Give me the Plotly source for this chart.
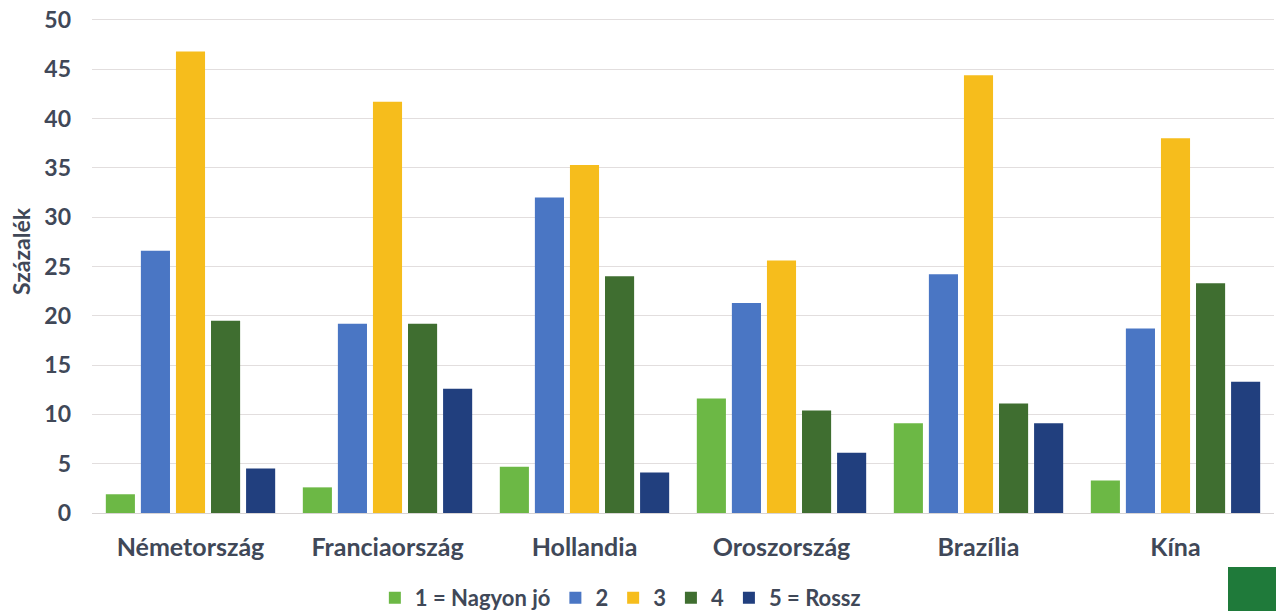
import plotly.graph_objects as go

categories = ["Németország", "Franciaország", "Hollandia", "Oroszország", "Brazília", "Kína"]
series_names = ["1 = Nagyon jó", "2", "3", "4", "5 = Rossz"]
v1 = [1.9, 2.6, 4.7, 11.6, 9.1, 3.3]
v2 = [26.6, 19.2, 32.0, 21.3, 24.2, 18.7]
v3 = [46.8, 41.7, 35.3, 25.6, 44.4, 38.0]
v4 = [19.5, 19.2, 24.0, 10.4, 11.1, 23.3]
v5 = [4.5, 12.6, 4.1, 6.1, 9.1, 13.3]
colors = ["#6cb845", "#4a76c4", "#f6bd1c", "#3f6e30", "#213f7e"]
y_title = "Százalék"

values = [v1, v2, v3, v4, v5]
fig = go.Figure()
for name, vals, col in zip(series_names, values, colors):
    fig.add_trace(go.Bar(x=categories, y=vals, name=name, marker=dict(color=col, line=dict(width=0))))

txt = "#404858"
F = "Lato"
fig.update_layout(
    width=1276, height=611,
    margin=dict(l=92, r=2, t=15, b=98),
    plot_bgcolor="white", paper_bgcolor="white",
    barmode="group", bargap=0.11, bargroupgap=0.17,
    font=dict(family=F, color=txt),
    showlegend=True,
    legend=dict(orientation="h", x=0.447, xanchor="center", yref="container", y=13/611, yanchor="middle",
                font=dict(size=22, family=F, weight="bold", color=txt),
                itemwidth=30, tracegroupgap=0),
    xaxis=dict(range=[-0.5, 5.5], showgrid=False, showline=False, zeroline=False, automargin=False,
               tickfont=dict(size=25, family=F, weight="bold", color=txt), ticks="",
               ticklabelstandoff=17),
    yaxis=dict(range=[0, 50.5], dtick=5, showgrid=True, gridcolor="#e2dede", gridwidth=1, automargin=False,
               zeroline=True, zerolinecolor="#d8d4d4", zerolinewidth=1,
               tickfont=dict(size=23, family=F, weight="bold", color=txt), ticks="",
               ticklabelstandoff=20),
)
fig.add_annotation(text=y_title, textangle=-90, xref="paper", yref="paper",
                   x=-71/1182, y=(513 - 251) / 498, xanchor="center", yanchor="middle",
                   showarrow=False, font=dict(size=23, family=F, weight="bold", color=txt))
fig.add_shape(type="rect", xref="paper", yref="paper", x0=1.0 - 46/1182, x1=1.0 + 2/1182, y0=-98/498, y1=-54/498,
              fillcolor="#1f7a3a", line=dict(width=0))
fig.write_html("out.html")
